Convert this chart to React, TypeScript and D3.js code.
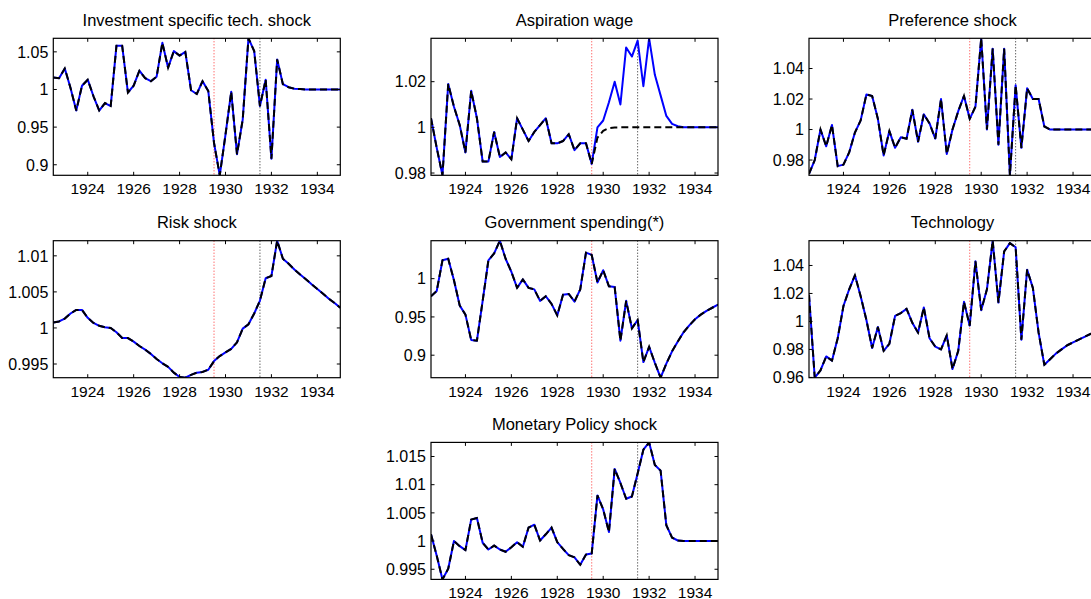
import React, { useEffect, useRef } from 'react';
import * as d3 from 'd3';

// quarterly observations, 1922.5 .. 1935
const startYear = 1922.5;
const quarterStep = 0.25;
const xTicks = [1924, 1926, 1928, 1930, 1932, 1934];
const markerRed = 1929.5;
const markerBlack = 1931.5;

const titles = [
  'Investment specific tech. shock',
  'Aspiration wage',
  'Preference shock',
  'Risk shock',
  'Government spending(*)',
  'Technology',
  'Monetary Policy shock',
];

const investment = [1.016, 1.015, 1.028, 1.002, 0.972, 1.005, 1.013, 0.991, 0.972, 0.982, 0.978, 1.058, 1.058, 0.996, 1.005, 1.025, 1.015, 1.011, 1.017, 1.062, 1.029, 1.051, 1.045, 1.050, 0.999, 0.994, 1.011, 0.998, 0.929, 0.886, 0.940, 0.997, 0.914, 0.960, 1.068, 1.051, 0.978, 1.013, 0.908, 1.040, 1.007, 1.003, 1.001, 1.0005, 1, 1, 1, 1, 1, 1, 1];
const aspiration = [1.004, 0.991, 0.979, 1.019, 1.009, 1.001, 0.989, 1.016, 1.004, 0.985, 0.985, 0.998, 0.987, 0.989, 0.986, 1.004, 0.999, 0.994, 0.998, 1.001, 1.004, 0.993, 0.993, 0.994, 0.997, 0.990, 0.993, 0.993, 0.984, 1.0, 1.003, 1.011, 1.020, 1.010, 1.035, 1.031, 1.038, 1.018, 1.039, 1.023, 1.014, 1.005, 1.0015, 1.0005, 1, 1, 1, 1, 1, 1, 1];
const aspirationDashed = [1.004, 0.991, 0.979, 1.019, 1.009, 1.001, 0.989, 1.016, 1.004, 0.985, 0.985, 0.998, 0.987, 0.989, 0.986, 1.004, 0.999, 0.994, 0.998, 1.001, 1.004, 0.993, 0.993, 0.994, 0.997, 0.990, 0.993, 0.993, 0.984, 0.9955, 0.9985, 0.9997, 0.99995, 1, 1, 1, 1, 1, 1, 1, 1, 1, 1, 1, 1, 1, 1, 1, 1, 1, 1];
const preference = [0.971, 0.980, 1.0, 0.989, 1.003, 0.976, 0.977, 0.985, 0.998, 1.006, 1.023, 1.022, 1.007, 0.983, 0.999, 0.988, 0.995, 0.994, 1.013, 0.992, 1.010, 1.004, 0.994, 1.020, 0.984, 1.0, 1.012, 1.022, 1.007, 1.015, 1.0598, 1.0, 1.053, 0.990, 1.053, 0.970, 1.029, 0.988, 1.027, 1.020, 1.020, 1.002, 1.0, 1, 1, 1, 1, 1, 1, 1, 1];
const risk = [1.00075, 1.0009, 1.0013, 1.002, 1.0025, 1.0025, 1.0014, 1.0007, 1.0003, 1.0001, 1.0, 0.9994, 0.9986, 0.9986, 0.9981, 0.9975, 0.997, 0.9964, 0.9957, 0.9951, 0.9946, 0.9938, 0.9932, 0.9931, 0.9935, 0.9938, 0.9939, 0.9942, 0.9954, 0.9961, 0.9966, 0.9971, 0.998, 0.9999, 1.0005, 1.002, 1.0038, 1.0069, 1.0072, 1.0121, 1.0096, 1.0089, 1.0081, 1.0074, 1.00676, 1.00606, 1.0054, 1.00475, 1.00405, 1.00345, 1.0028];
const government = [0.977, 0.984, 1.024, 1.026, 0.998, 0.965, 0.953, 0.920, 0.919, 0.971, 1.024, 1.033, 1.0496, 1.026, 1.009, 0.988, 0.999, 0.988, 0.986, 0.971, 0.977, 0.967, 0.952, 0.979, 0.980, 0.970, 0.986, 1.034, 1.031, 0.995, 1.011, 0.990, 0.989, 0.919, 0.971, 0.935, 0.946, 0.891, 0.911, 0.890, 0.8706, 0.889, 0.905, 0.918, 0.930, 0.939, 0.947, 0.953, 0.958, 0.962, 0.966];
const technology = [1.019, 0.9598, 0.965, 0.975, 0.972, 0.988, 1.011, 1.023, 1.033, 1.018, 1.001, 0.981, 0.996, 0.979, 0.984, 1.004, 1.006, 1.009, 0.999, 0.992, 1.010, 0.988, 0.982, 0.980, 0.990, 0.966, 0.979, 1.014, 0.997, 1.043, 1.008, 1.023, 1.0577, 1.0135, 1.050, 1.056, 1.053, 0.987, 1.037, 1.024, 0.992, 0.969, 0.973, 0.977, 0.980, 0.983, 0.985, 0.987, 0.989, 0.991, 0.992];
const monetary = [1.0012, 0.9974, 0.9932, 0.9951, 1.0, 0.9991, 0.9984, 1.0038, 1.0041, 0.9997, 0.9985, 0.9992, 0.9985, 0.9981, 0.9989, 0.9998, 0.999, 1.0024, 1.0029, 1.0001, 1.0012, 1.0024, 0.9998, 0.9986, 0.9975, 0.9971, 0.9958, 0.9976, 0.9978, 1.0081, 1.0056, 1.0016, 1.0128, 1.0103, 1.0075, 1.0079, 1.012, 1.0162, 1.0175, 1.0135, 1.0125, 1.0028, 1.0006, 1.0001, 1, 1, 1, 1, 1, 1, 1];

const solidSeries = [investment, aspiration, preference, risk, government, technology, monetary];
const dashedSeries = [investment, aspirationDashed, preference, risk, government, technology, monetary];

const yTicks = [
  [0.9, 0.95, 1, 1.05],
  [0.98, 1, 1.02],
  [0.98, 1, 1.02, 1.04],
  [0.995, 1, 1.005, 1.01],
  [0.9, 0.95, 1],
  [0.96, 0.98, 1, 1.02, 1.04],
  [0.995, 1, 1.005, 1.01, 1.015],
];

// grid slot (col,row) of each panel
const slots = [[0, 0], [1, 0], [2, 0], [0, 1], [1, 1], [2, 1], [1, 2]];

export default function App() {
  const ref = useRef<SVGSVGElement>(null);

  useEffect(() => {
    if (!ref.current) return;
    const svg = d3.select(ref.current);
    svg.selectAll('*').remove();

    const W = 1091;
    const H = 599;
    svg.attr('width', W).attr('height', H);

    const colLeft = [53.3, 431, 809];
    const rowTop = [38.3, 240.7, 442.4];
    const pw = 287;
    const ph = 137;
    const tickLen = 3.5;
    const font = '"Liberation Sans", Arial, Helvetica, sans-serif';

    const dates = solidSeries[0].map((_, i) => startYear + i * quarterStep);
    const fmt = (v: number) => String(+v.toFixed(4));

    const defs = svg.append('defs');

    solidSeries.forEach((solid, k) => {
      const [c, r] = slots[k];
      const left = colLeft[c];
      const top = rowTop[r];
      const g = svg.append('g').attr('transform', `translate(${left},${top})`);

      const x = d3.scaleLinear().domain([startYear, 1935]).range([0, pw]);
      const ext = d3.extent(solid.concat(dashedSeries[k])) as [number, number];
      const y = d3.scaleLinear().domain(ext).range([ph, 0]);

      defs.append('clipPath').attr('id', `clip${k}`)
        .append('rect').attr('x', 0).attr('y', 0).attr('width', pw).attr('height', ph);

      g.append('rect')
        .attr('width', pw).attr('height', ph)
        .attr('fill', '#fff');

      // marker lines
      g.append('line')
        .attr('x1', x(markerRed)).attr('x2', x(markerRed))
        .attr('y1', 0).attr('y2', ph)
        .attr('stroke', '#ff3030').attr('stroke-width', 1)
        .attr('stroke-dasharray', '1,2');
      g.append('line')
        .attr('x1', x(markerBlack)).attr('x2', x(markerBlack))
        .attr('y1', 0).attr('y2', ph)
        .attr('stroke', '#222').attr('stroke-width', 1)
        .attr('stroke-dasharray', '1,2');

      const line = d3.line<number>()
        .x((_, i) => x(dates[i]))
        .y(d => y(d));

      const lines = g.append('g').attr('clip-path', `url(#clip${k})`);
      lines.append('path')
        .attr('d', line(solid))
        .attr('fill', 'none')
        .attr('stroke', '#0000ff')
        .attr('stroke-width', 2)
        .attr('stroke-linejoin', 'round');
      lines.append('path')
        .attr('d', line(dashedSeries[k]))
        .attr('fill', 'none')
        .attr('stroke', '#000')
        .attr('stroke-width', 2)
        .attr('stroke-dasharray', '7,4');

      // box
      g.append('rect')
        .attr('width', pw).attr('height', ph)
        .attr('fill', 'none')
        .attr('stroke', '#000')
        .attr('stroke-width', 1.2);

      // x ticks (inside, bottom and top)
      xTicks.forEach(t => {
        const px = x(t);
        g.append('line').attr('x1', px).attr('x2', px).attr('y1', ph).attr('y2', ph - tickLen).attr('stroke', '#000');
        g.append('line').attr('x1', px).attr('x2', px).attr('y1', 0).attr('y2', tickLen).attr('stroke', '#000');
        g.append('text')
          .attr('x', px).attr('y', ph + 19)
          .attr('text-anchor', 'middle')
          .attr('font-family', font).attr('font-size', '15.5px')
          .attr('fill', '#000')
          .text(String(t));
      });

      // y ticks (inside, left and right)
      yTicks[k].forEach(t => {
        const py = y(t);
        g.append('line').attr('x1', 0).attr('x2', tickLen).attr('y1', py).attr('y2', py).attr('stroke', '#000');
        g.append('line').attr('x1', pw).attr('x2', pw - tickLen).attr('y1', py).attr('y2', py).attr('stroke', '#000');
        g.append('text')
          .attr('x', -5).attr('y', py).attr('dy', '0.36em')
          .attr('text-anchor', 'end')
          .attr('font-family', font).attr('font-size', '16px')
          .attr('fill', '#000')
          .text(fmt(t));
      });

      g.append('text')
        .attr('x', pw / 2).attr('y', -12.5)
        .attr('text-anchor', 'middle')
        .attr('font-family', font).attr('font-size', '16.5px')
        .attr('fill', '#000')
        .text(titles[k]);
    });
  }, []);

  return (
    <svg ref={ref} style={{ position: 'absolute', left: 0, top: 0, background: '#fff' }}></svg>
  );
}
